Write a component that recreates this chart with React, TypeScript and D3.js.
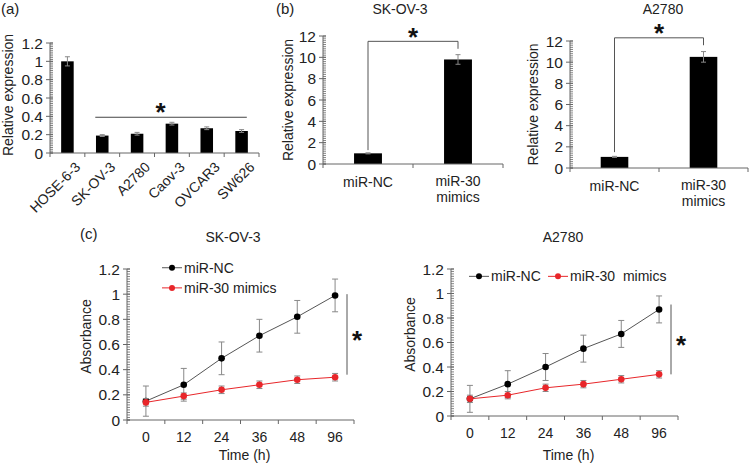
import React from "react";
import * as d3 from "d3";

const cellLines = ["HOSE-6-3", "SK-OV-3", "A2780", "Caov-3", "OVCAR3", "SW626"];
const cellExpr = [1.0, 0.19, 0.21, 0.32, 0.27, 0.24];
const cellErr = [0.05, 0.01, 0.015, 0.015, 0.015, 0.015];

const groups = ["miR-NC", "miR-30 mimics"];
const skovExpr = [1.0, 9.8];
const skovErr = [0.05, 0.45];
const a2780Expr = [1.05, 10.5];
const a2780Err = [0.05, 0.5];

const times = ["0", "12", "24", "36", "48", "96"];
const skovNC = [0.15, 0.28, 0.49, 0.67, 0.82, 0.99];
const skovNCErr = [0.12, 0.13, 0.13, 0.13, 0.13, 0.13];
const skovMim = [0.14, 0.19, 0.24, 0.28, 0.32, 0.34];
const skovMimErr = [0.03, 0.025, 0.03, 0.03, 0.03, 0.03];
const a27NC = [0.14, 0.26, 0.40, 0.55, 0.67, 0.87];
const a27NCErr = [0.11, 0.11, 0.11, 0.11, 0.11, 0.11];
const a27Mim = [0.14, 0.17, 0.23, 0.26, 0.30, 0.34];
const a27MimErr = [0.03, 0.03, 0.03, 0.03, 0.03, 0.03];

const FONT = "'Liberation Sans', Arial, sans-serif";
const AX = "#666";
const TXT = "#222";
const RED = "#e8262a";
const NCLINE = "#555";
const ERRC = "#888";
const FS = 14;
const TFS = 15.5;

type YAxisProps = { y: d3.ScaleLinear<number, number>; x: number; ticks: number[]; step: number; fmt: (v: number) => string };
function YAxis({ y, x, ticks, step, fmt }: YAxisProps) {
  const [d0, d1] = y.domain();
  const minors: number[] = [];
  const ms = step / 10;
  for (let i = 0; d0 + i * ms <= d1 + 1e-9; i++) minors.push(d0 + i * ms);
  return (
    <g>
      <line x1={x} x2={x} y1={y(d0)} y2={y(d1)} stroke={AX} strokeWidth={1} />
      {minors.map((v, i) => (
        <line key={"m" + i} x1={x} x2={x + 3} y1={y(v)} y2={y(v)} stroke={AX} strokeWidth={0.8} />
      ))}
      {ticks.map((v, i) => (
        <g key={i}>
          <line x1={x - 4} x2={x + 3} y1={y(v)} y2={y(v)} stroke={AX} strokeWidth={1} />
          <text x={x - 7} y={y(v)} dy="0.36em" textAnchor="end" fontSize={TFS} fill={TXT} fontFamily={FONT}>
            {fmt(v)}
          </text>
        </g>
      ))}
    </g>
  );
}

function XAxisBand({ xb, y }: { xb: d3.ScaleBand<string>; y: number }) {
  const [r0, r1] = xb.range();
  const bounds = [r0, ...xb.domain().map((c) => (xb(c) as number) + xb.step())];
  return (
    <g>
      <line x1={r0} x2={r1} y1={y} y2={y} stroke={AX} strokeWidth={1} />
      {bounds.map((bx, i) => (
        <line key={i} x1={bx} x2={bx} y1={y} y2={y + 4} stroke={AX} strokeWidth={1} />
      ))}
    </g>
  );
}

function ErrBar({ x, y0, y1, w, color }: { x: number; y0: number; y1: number; w: number; color: string }) {
  return (
    <g stroke={color} strokeWidth={1}>
      <line x1={x} x2={x} y1={y0} y2={y1} />
      <line x1={x - w / 2} x2={x + w / 2} y1={y0} y2={y0} />
      <line x1={x - w / 2} x2={x + w / 2} y1={y1} y2={y1} />
    </g>
  );
}

const fmt1 = (v: number) => String(+v.toFixed(1));
const fmt0 = (v: number) => String(Math.round(v));

function PanelA() {
  const y = d3.scaleLinear().domain([0, 1.2]).range([153, 43]);
  const xb = d3.scaleBand<string>().domain(cellLines).range([50, 259]);
  const bw = xb.step() * 0.36;
  const x0 = (xb("SK-OV-3") as number) + xb.step() * 0.3;
  const x1 = (xb("SW626") as number) + xb.step() * 0.65;
  const starX = (xb("Caov-3") as number) + 6;
  return (
    <g>
      <text x={1} y={14} fontSize={15} fill={TXT} fontFamily={FONT}>(a)</text>
      <text transform={`translate(13,${(y(0) + y(1.2)) / 2 - 3}) rotate(-90)`} textAnchor="middle" fontSize={FS} fill={TXT} fontFamily={FONT}>
        Relative expression
      </text>
      {cellLines.map((c, i) => {
        const cx = (xb(c) as number) + xb.step() / 2;
        return (
          <g key={c}>
            <rect x={cx - bw / 2} y={y(cellExpr[i])} width={bw} height={y(0) - y(cellExpr[i])} fill="#000" />
            <ErrBar x={cx} y0={y(cellExpr[i] + cellErr[i])} y1={y(cellExpr[i] - cellErr[i])} w={5} color={ERRC} />
            <text transform={`translate(${cx + 7},${y(0) + 8}) rotate(-45)`} textAnchor="end" dy="0.7em" fontSize={FS} fill={TXT} fontFamily={FONT}>
              {c}
            </text>
          </g>
        );
      })}
      <YAxis y={y} x={50} ticks={d3.range(0, 1.21, 0.2)} step={0.2} fmt={fmt1} />
      <XAxisBand xb={xb} y={y(0)} />
      <line x1={x0} x2={x1} y1={y(0.39)} y2={y(0.39)} stroke="#444" strokeWidth={1} />
      <text x={starX} y={y(0.39) + 4} textAnchor="middle" fontSize={26} fontWeight="bold" fill="#111" fontFamily={FONT}>*</text>
    </g>
  );
}

type BarPanelProps = {
  title: string; label?: string; axisX: number; axisEnd: number; yTop: number; yBottom: number;
  values: number[]; errs: number[]; titleX: number; ylabX: number; bracketTop: number; rightLeg: number; leftLeg: number; starY: number;
};
function BarPanel(p: BarPanelProps) {
  const y = d3.scaleLinear().domain([0, 12]).range([p.yBottom, p.yTop]);
  const xb = d3.scaleBand<string>().domain(groups).range([p.axisX, p.axisEnd]);
  const bw = xb.step() * 0.31;
  const cxs = groups.map((g) => (xb(g) as number) + xb.step() / 2);
  return (
    <g>
      {p.label && <text x={276} y={14} fontSize={15} fill={TXT} fontFamily={FONT}>{p.label}</text>}
      <text x={p.titleX} y={14} textAnchor="middle" fontSize={FS} fill={TXT} fontFamily={FONT}>{p.title}</text>
      <text transform={`translate(${p.ylabX},${(p.yTop + p.yBottom) / 2}) rotate(-90)`} textAnchor="middle" fontSize={FS} fill={TXT} fontFamily={FONT}>
        Relative expression
      </text>
      {groups.map((g, i) => (
        <g key={g}>
          <rect x={cxs[i] - bw / 2} y={y(p.values[i])} width={bw} height={y(0) - y(p.values[i])} fill="#000" />
          <ErrBar x={cxs[i]} y0={y(p.values[i] + p.errs[i])} y1={y(p.values[i] - p.errs[i])} w={5} color={ERRC} />
        </g>
      ))}
      <text x={cxs[0]} y={p.yBottom + 23} textAnchor="middle" fontSize={FS} fill={TXT} fontFamily={FONT}>miR-NC</text>
      <text x={cxs[1]} y={p.yBottom + 22} textAnchor="middle" fontSize={FS} fill={TXT} fontFamily={FONT}>
        <tspan x={cxs[1]}>miR-30</tspan>
        <tspan x={cxs[1]} dy={15.5}>mimics</tspan>
      </text>
      <YAxis y={y} x={p.axisX} ticks={d3.range(0, 12.1, 2)} step={2} fmt={fmt0} />
      <XAxisBand xb={xb} y={y(0)} />
      <path
        d={`M${cxs[0]},${y(p.leftLeg)}V${y(p.bracketTop)}H${cxs[1]}V${y(p.rightLeg)}`}
        fill="none" stroke="#555" strokeWidth={1}
      />
      <text x={(cxs[0] + cxs[1]) / 2} y={p.starY + 13} textAnchor="middle" fontSize={26} fontWeight="bold" fill="#111" fontFamily={FONT}>*</text>
    </g>
  );
}

type LinePanelProps = {
  title: string; titleX: number; axisX: number; axisEnd: number; yTop: number; yBottom: number;
  nc: number[]; ncErr: number[]; mim: number[]; mimErr: number[]; ylabX: number;
  sigTop: number; sigBottom: number; legend: "stack" | "row";
};
function LinePanel(p: LinePanelProps) {
  const y = d3.scaleLinear().domain([0, 1.2]).range([p.yBottom, p.yTop]);
  const xb = d3.scaleBand<string>().domain(times).range([p.axisX, p.axisEnd]);
  const cx = (t: string) => (xb(t) as number) + xb.step() / 2;
  const line = d3.line<number>().x((_, i) => cx(times[i])).y((v) => y(v));
  const sigX = p.axisEnd - 7;
  const series = [
    { vals: p.nc, errs: p.ncErr, line: NCLINE, dot: "#000", name: "miR-NC" },
    { vals: p.mim, errs: p.mimErr, line: RED, dot: RED, name: p.legend === "row" ? "miR-30  mimics" : "miR-30 mimics" },
  ];
  const legendPos =
    p.legend === "stack"
      ? [{ x: p.axisX + 35, y: y(1.21) }, { x: p.axisX + 35, y: y(1.05) }]
      : [{ x: p.axisX + 18, y: y(1.14) }, { x: p.axisX + 97, y: y(1.14) }];
  return (
    <g>
      <text x={p.titleX} y={242} textAnchor="middle" fontSize={FS} fill={TXT} fontFamily={FONT}>{p.title}</text>
      <text transform={`translate(${p.ylabX},${(p.yTop + p.yBottom) / 2 - 8}) rotate(-90)`} textAnchor="middle" fontSize={FS} fill={TXT} fontFamily={FONT}>
        Absorbance
      </text>
      {series.map((s) => (
        <g key={s.name}>
          {s.vals.map((v, i) => (
            <ErrBar key={i} x={cx(times[i])} y0={y(v + s.errs[i])} y1={y(v - s.errs[i])} w={6} color={ERRC} />
          ))}
          <path d={line(s.vals) as string} fill="none" stroke={s.line} strokeWidth={1} />
          {s.vals.map((v, i) => (
            <circle key={i} cx={cx(times[i])} cy={y(v)} r={3.3} fill={s.dot} />
          ))}
        </g>
      ))}
      {series.map((s, i) => (
        <g key={"lg" + i}>
          <line x1={legendPos[i].x} x2={legendPos[i].x + 20} y1={legendPos[i].y} y2={legendPos[i].y} stroke={s.line} strokeWidth={1} />
          <circle cx={legendPos[i].x + 10} cy={legendPos[i].y} r={3} fill={s.dot} />
          <text x={legendPos[i].x + 22} y={legendPos[i].y} dy="0.36em" fontSize={FS} fill={TXT} fontFamily={FONT} style={{ whiteSpace: "pre" }}>
            {s.name}
          </text>
        </g>
      ))}
      <YAxis y={y} x={p.axisX} ticks={d3.range(0, 1.21, 0.2)} step={0.2} fmt={fmt1} />
      <XAxisBand xb={xb} y={y(0)} />
      {times.map((t) => (
        <text key={t} x={cx(t)} y={y(0) + 22} textAnchor="middle" fontSize={FS} fill={TXT} fontFamily={FONT}>{t}</text>
      ))}
      <text x={(p.axisX + p.axisEnd) / 2 + 4} y={460} textAnchor="middle" fontSize={FS} fill={TXT} fontFamily={FONT}>Time (h)</text>
      <line x1={sigX} x2={sigX} y1={y(p.sigTop)} y2={y(p.sigBottom)} stroke="#555" strokeWidth={1} />
      <text x={sigX + 10} y={(y(p.sigTop) + y(p.sigBottom)) / 2 + 15} textAnchor="middle" fontSize={26} fontWeight="bold" fill="#111" fontFamily={FONT}>*</text>
    </g>
  );
}

export default function App() {
  return (
    <svg width={750} height={464} style={{ position: "absolute", left: 0, top: 0, background: "#fff" }}>
      <rect width={750} height={464} fill="#fff" />
      <PanelA />
      <BarPanel title="SK-OV-3" label="(b)" axisX={323} axisEnd={503} yTop={36} yBottom={164}
        values={skovExpr} errs={skovErr} titleX={400} ylabX={293} bracketTop={11.5} rightLeg={10.8} leftLeg={1.3} starY={33} />
      <BarPanel title="A2780" axisX={570} axisEnd={748} yTop={41} yBottom={168}
        values={a2780Expr} errs={a2780Err} titleX={663} ylabX={538} bracketTop={12.3} rightLeg={11.6} leftLeg={1.5} starY={29} />
      <text x={80} y={239} fontSize={15} fill={TXT} fontFamily={FONT}>(c)</text>
      <LinePanel title="SK-OV-3" titleX={233} axisX={127} axisEnd={354} yTop={269} yBottom={420}
        nc={skovNC} ncErr={skovNCErr} mim={skovMim} mimErr={skovMimErr} ylabX={91} sigTop={1.0} sigBottom={0.36} legend="stack" />
      <LinePanel title="A2780" titleX={563} axisX={451} axisEnd={678} yTop={269} yBottom={416}
        nc={a27NC} ncErr={a27NCErr} mim={a27Mim} mimErr={a27MimErr} ylabX={415} sigTop={0.91} sigBottom={0.34} legend="row" />
    </svg>
  );
}
